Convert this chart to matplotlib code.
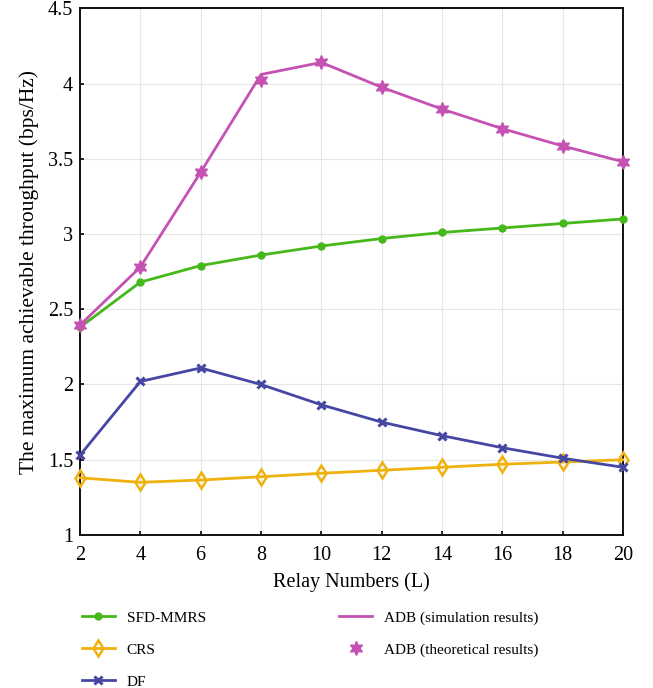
import matplotlib
matplotlib.use("Agg")
import matplotlib.pyplot as plt

plt.rcParams["font.family"] = ["Liberation Serif", "DejaVu Serif"]

relays = [2, 4, 6, 8, 10, 12, 14, 16, 18, 20]

sfd_mmrs = [2.38, 2.68, 2.79, 2.86, 2.92, 2.97, 3.01, 3.04, 3.07, 3.10]
crs = [1.38, 1.35, 1.365, 1.387, 1.41, 1.43, 1.45, 1.47, 1.485, 1.50]
df_relay = [1.53, 2.02, 2.11, 2.00, 1.865, 1.75, 1.66, 1.58, 1.51, 1.45]
adb_sim = [2.395, 2.78, 3.41, 4.06, 4.14, 3.975, 3.83, 3.70, 3.585, 3.48]
adb_theory = [2.395, 2.78, 3.41, 4.02, 4.14, 3.975, 3.83, 3.70, 3.585, 3.48]

y_ticks = [1, 1.5, 2, 2.5, 3, 3.5, 4, 4.5]
y_tick_labels = ["1", "1.5", "2", "2.5", "3", "3.5", "4", "4.5"]

c_green = "#45b81a"
c_orange = "#efb20c"
c_blue = "#4547a3"
c_magenta = "#c552b3"

fig = plt.figure(figsize=(6.53, 6.88), dpi=100)
ax = fig.add_axes([0.1225, 0.2224, 0.8315, 0.7656])

ax.plot(relays, sfd_mmrs, color=c_green, lw=2.0, marker="o", ms=5,
        label="SFD-MMRS", zorder=3, clip_on=False)
ax.plot(relays, crs, color=c_orange, lw=2.0, marker="d", ms=8.5,
        mfc="none", mew=1.8, label="CRS", zorder=3, clip_on=False)
ax.plot(relays, df_relay, color=c_blue, lw=2.0, marker="x", ms=6,
        mew=2.2, label="DF", zorder=3, clip_on=False)
ax.plot(relays, adb_sim, color=c_magenta, lw=2.0,
        label="ADB (simulation results)", zorder=3, clip_on=False)
ax.plot(relays, adb_theory, ls="none", color=c_magenta, marker=(6, 1, 0),
        ms=10, label="ADB (theoretical results)", zorder=4, clip_on=False)

ax.set_xlim(2, 20)
ax.set_ylim(1, 4.5)
ax.set_xticks(relays)
ax.set_yticks(y_ticks)
ax.set_yticklabels(y_tick_labels)
ax.tick_params(direction="in", length=3, width=1.2, labelsize=14.5)
ax.tick_params(axis="x", pad=8)
ax.tick_params(axis="y", pad=5)
ax.grid(True, color="#e6e6e6", lw=0.8)
ax.set_axisbelow(True)
for sp in ax.spines.values():
    sp.set_linewidth(1.4)
    sp.set_color("#111111")

ax.set_xlabel("Relay Numbers (L)", fontsize=14.5, labelpad=5)
ax.set_ylabel("The maximum achievable throughput (bps/Hz)", fontsize=15.5,
              labelpad=6)

fig.legend(loc="upper left", bbox_to_anchor=(0.104, 0.132), ncol=2,
           frameon=False, fontsize=11, handlelength=2.2, handletextpad=0.75,
           columnspacing=8.7, labelspacing=1.2)

fig.savefig("out.png", dpi=100)
